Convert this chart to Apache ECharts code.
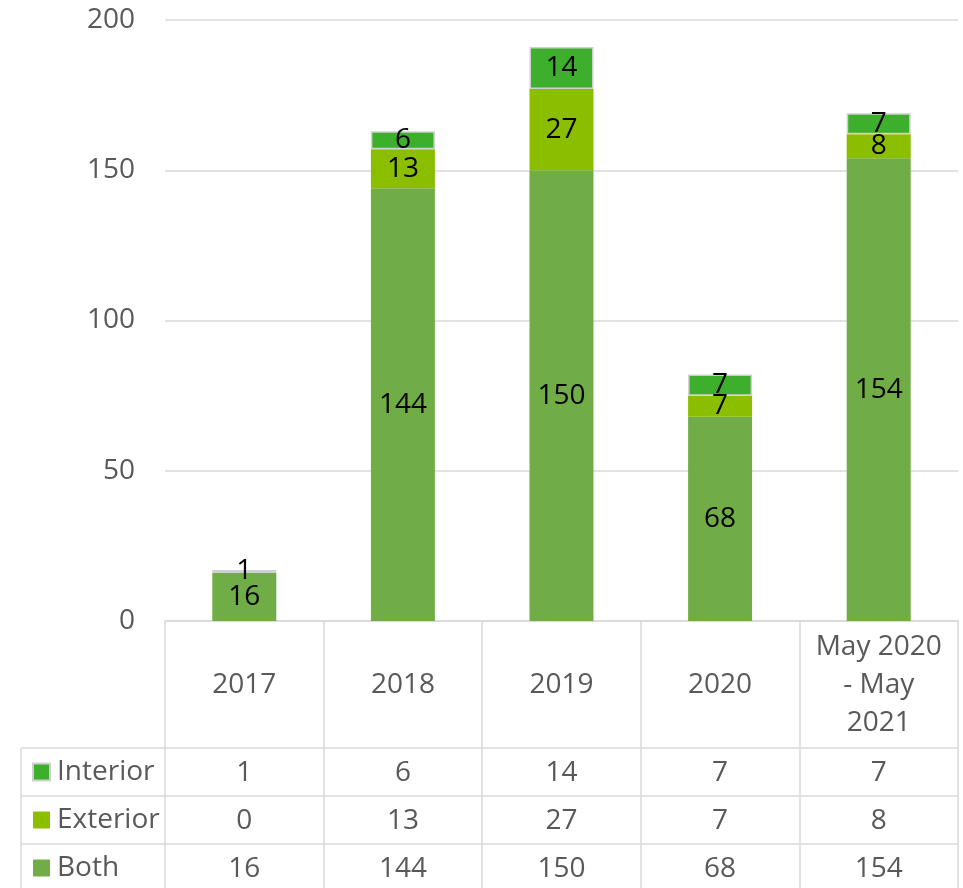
<!DOCTYPE html>
<html>
<head>
<meta charset="utf-8">
<script src="https://cdn.jsdelivr.net/npm/echarts@6/dist/echarts.min.js"></script>
<style>
html,body{margin:0;padding:0;background:#fff;}
#chart{width:963px;height:888px;}
</style>
</head>
<body>
<div id="chart"></div>
<script>
var categories = ['2017', '2018', '2019', '2020', 'May 2020\n- May\n2021'];
var interior = [1, 6, 14, 7, 7];
var exterior = [0, 13, 27, 7, 8];
var both = [16, 144, 150, 68, 154];
var yTicks = { min: 0, max: 200, interval: 50 };

var FONT = '"Open Sans", sans-serif';
var FS = 28;
var GRID_LINE = '#D9D9D9';
var TXT = '#595959';
var COLORS = { Both: '#70AD47', Exterior: '#8CBE00', Interior: '#3EAF2C' };

var rows = [
  { name: 'Interior', values: interior },
  { name: 'Exterior', values: exterior },
  { name: 'Both', values: both }
];

var gridTop = 20, gridBottom = 267, gridLeft = 165, gridRight = 5;
var catRowH = 127, rowH = 48;

var xAxes = [{
  type: 'category',
  data: categories,
  position: 'bottom',
  boundaryGap: true,
  axisLine: { show: true, lineStyle: { color: GRID_LINE, width: 1.5 } },
  axisTick: { show: true, length: catRowH, interval: 0, lineStyle: { color: GRID_LINE, width: 1.5 } },
  axisLabel: { interval: 0, margin: catRowH / 2 + 1, verticalAlign: 'middle', color: TXT, fontFamily: FONT, fontSize: FS, lineHeight: 38 }
}];
rows.forEach(function (r, i) {
  xAxes.push({
    type: 'category',
    data: categories,
    position: 'bottom',
    offset: catRowH + i * rowH,
    boundaryGap: true,
    axisLine: { show: true, lineStyle: { color: GRID_LINE, width: 1.5 } },
    axisTick: { show: true, length: rowH, interval: 0, lineStyle: { color: GRID_LINE, width: 1.5 } },
    axisLabel: {
      interval: 0, margin: rowH / 2 + 1, verticalAlign: 'middle', color: TXT, fontFamily: FONT, fontSize: FS,
      formatter: function (v, idx) { return String(r.values[idx]); }
    }
  });
});

function labelCfg() {
  return {
    show: true, position: 'inside', color: '#000', fontFamily: FONT, fontSize: FS,
    formatter: function (p) { return p.value === 0 ? '' : String(p.value); }
  };
}

var series = [
  { name: 'Both', type: 'bar', stack: 't', data: both, barWidth: 64, itemStyle: { color: COLORS.Both }, label: labelCfg() },
  { name: 'Exterior', type: 'bar', stack: 't', data: exterior, barWidth: 64, itemStyle: { color: COLORS.Exterior }, label: labelCfg() },
  { name: 'Interior', type: 'bar', stack: 't', data: interior, barWidth: 64, itemStyle: { color: COLORS.Interior, borderColor: '#D0D0D0', borderWidth: 1.5 }, label: labelCfg() }
];

var tableTop = 888 - gridBottom + catRowH; // 748
var graphicEls = [];
for (var i = 0; i < rows.length; i++) {
  var y = tableTop + i * rowH;
  graphicEls.push({ type: 'line', shape: { x1: 21, y1: y, x2: gridLeft, y2: y }, style: { stroke: GRID_LINE, lineWidth: 1.5 } });
}
graphicEls.push({ type: 'line', shape: { x1: 21, y1: tableTop, x2: 21, y2: 888 }, style: { stroke: GRID_LINE, lineWidth: 1.5 } });

var chart = echarts.init(document.getElementById('chart'), null, { renderer: 'canvas' });
chart.setOption({
  animation: false,
  backgroundColor: '#fff',
  grid: { left: gridLeft, right: gridRight, top: gridTop, bottom: gridBottom, containLabel: false },
  legend: {
    orient: 'vertical', left: 32, top: tableTop + rowH / 2 - 15, padding: 0,
    itemWidth: 17, itemHeight: 17, itemGap: 18, icon: 'rect',
    data: ['Interior', 'Exterior', 'Both'],
    textStyle: { color: TXT, fontFamily: FONT, fontSize: FS, lineHeight: 30, padding: [0, 0, 0, 2] }
  },
  xAxis: xAxes,
  yAxis: {
    type: 'value', min: yTicks.min, max: yTicks.max, interval: yTicks.interval,
    axisLine: { show: false }, axisTick: { show: false },
    splitLine: { lineStyle: { color: GRID_LINE, width: 1.5 } },
    axisLabel: { margin: 30, color: TXT, fontFamily: FONT, fontSize: FS }
  },
  series: series,
  graphic: graphicEls
});
</script>
</body>
</html>
